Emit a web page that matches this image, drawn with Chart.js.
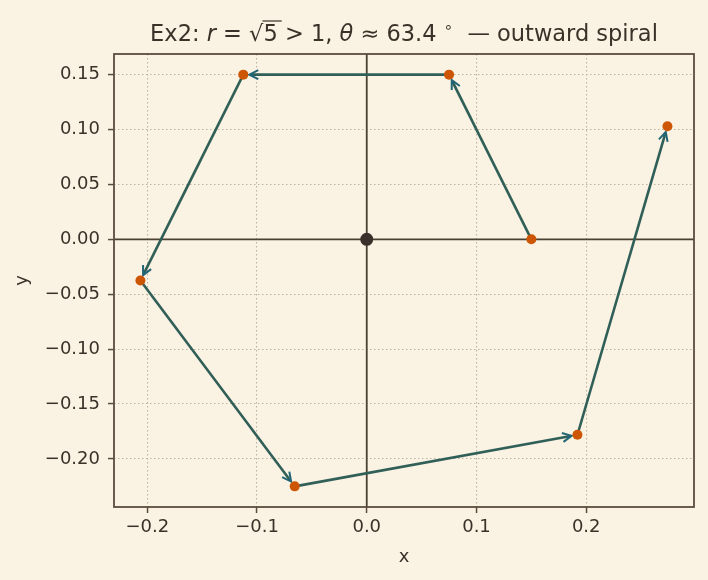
<!DOCTYPE html>
<html>
<head>
<meta charset="utf-8">
<script src="https://cdn.jsdelivr.net/npm/chart.js@4"></script>
<style>
  html, body { margin: 0; padding: 0; background: #faf2e3; }
  #wrap { width: 708px; height: 580px; }
</style>
</head>
<body>
<div id="wrap"><canvas id="plot" width="708" height="580"></canvas></div>
<script>
// iterates of the map
const spiralX = [0.15, 0.075, -0.1125, -0.20625, -0.065625, 0.192, 0.274];
const spiralY = [0, 0.15, 0.15, -0.0375, -0.225, -0.178, 0.103];
const originX = [0];
const originY = [0];
const xTicks = [-0.2, -0.1, 0, 0.1, 0.2];
const yTicks = [-0.2, -0.15, -0.1, -0.05, 0, 0.05, 0.1, 0.15];
const xLimits = [-0.2303, 0.2982];
const yLimits = [-0.2438, 0.1688];

const ink = "#3b3129";
const frameColor = "#5a4d3d";
const fmt = (v, d) => v.toFixed(d).replace("-", "\u2212");

const extras = {
  id: "extras",
  beforeDraw(chart) {
    const ctx = chart.ctx;
    ctx.save();
    ctx.fillStyle = "#faf2e3";
    ctx.fillRect(0, 0, chart.width, chart.height);
    ctx.restore();
  },
  beforeDatasetsDraw(chart) {
    const { ctx, chartArea: a, scales: { x, y } } = chart;
    ctx.save();
    // zero lines
    const x0 = x.getPixelForValue(0), y0 = y.getPixelForValue(0);
    ctx.strokeStyle = "#4b4034";
    ctx.lineWidth = 1.8;
    ctx.beginPath();
    ctx.moveTo(a.left, y0); ctx.lineTo(a.right, y0);
    ctx.moveTo(x0, a.top); ctx.lineTo(x0, a.bottom);
    ctx.stroke();

    // arrows between consecutive iterates
    for (let i = 0; i < spiralX.length - 1; i++) {
      const x1 = x.getPixelForValue(spiralX[i]), y1 = y.getPixelForValue(spiralY[i]);
      const x2 = x.getPixelForValue(spiralX[i + 1]), y2 = y.getPixelForValue(spiralY[i + 1]);
      const len = Math.hypot(x2 - x1, y2 - y1);
      const ux = (x2 - x1) / len, uy = (y2 - y1) / len;
      const tx = x2 - ux * 6, ty = y2 - uy * 6;
      ctx.strokeStyle = "#2f5f57";
      ctx.lineWidth = 2.6;
      ctx.lineCap = "butt";
      ctx.beginPath();
      ctx.moveTo(x1, y1); ctx.lineTo(tx - ux * 2, ty - uy * 2);
      ctx.stroke();
      const hl = 9, hw = 4.5;
      const bx = tx - ux * hl, by = ty - uy * hl;
      ctx.strokeStyle = "#226575";
      ctx.lineWidth = 2;
      ctx.beginPath();
      ctx.moveTo(bx - uy * hw, by + ux * hw);
      ctx.lineTo(tx, ty);
      ctx.lineTo(bx + uy * hw, by - ux * hw);
      ctx.moveTo(tx, ty);
      ctx.lineTo(tx - ux * 4, ty - uy * 4);
      ctx.stroke();
    }
    ctx.restore();
  },
  afterDraw(chart) {
    const { ctx, chartArea: a } = chart;
    ctx.save();
    ctx.strokeStyle = frameColor;
    ctx.lineWidth = 1.8;
    ctx.strokeRect(a.left, a.top, a.right - a.left, a.bottom - a.top);

    // title with math parts
    const fam = "'DejaVu Sans', sans-serif";
    const norm = "22.5px " + fam, ital = "italic 22.5px " + fam, small = "15px " + fam;
    const parts = [
      { t: "Ex2: ", f: norm },
      { t: "r", f: ital },
      { t: " = ", f: norm },
      { t: "\u221A", f: norm },
      { t: "5", f: norm, over: true },
      { t: " > 1, ", f: norm },
      { t: "\u03B8", f: ital },
      { t: " \u2248 63.4 ", f: norm },
      { t: "\u2218", f: small, dy: -9 },
      { t: "  \u2014 outward spiral", f: norm }
    ];
    let total = 0;
    parts.forEach(p => { ctx.font = p.f; p.w = ctx.measureText(p.t).width; total += p.w; });
    let cx = (a.left + a.right) / 2 - total / 2;
    const base = 41;
    ctx.fillStyle = ink;
    ctx.textBaseline = "alphabetic";
    ctx.textAlign = "left";
    parts.forEach(p => {
      ctx.font = p.f;
      ctx.fillText(p.t, cx, base + (p.dy || 0));
      if (p.over) {
        ctx.strokeStyle = ink;
        ctx.lineWidth = 1.2;
        ctx.beginPath();
        ctx.moveTo(cx - 1, base - 20); ctx.lineTo(cx + p.w + 4, base - 20);
        ctx.stroke();
      }
      cx += p.w;
    });
    ctx.restore();
  }
};

const tickFont = { family: "'DejaVu Sans', sans-serif", size: 18 };

new Chart(document.getElementById("plot"), {
  type: "scatter",
  data: {
    datasets: [
      {
        label: "iterates",
        data: spiralX.map((v, i) => ({ x: v, y: spiralY[i] })),
        backgroundColor: "#cd5606",
        borderColor: "#cd5606",
        pointRadius: 5,
        borderWidth: 0
      },
      {
        label: "origin",
        data: originX.map((v, i) => ({ x: v, y: originY[i] })),
        backgroundColor: "#3a2f2b",
        borderColor: "#3a2f2b",
        pointRadius: 6.5,
        borderWidth: 0
      }
    ]
  },
  options: {
    responsive: false,
    animation: false,
    devicePixelRatio: 1,
    layout: { padding: { top: 54, right: 14, left: 0, bottom: 0 } },
    plugins: {
      legend: { display: false },
      title: { display: false },
      tooltip: { enabled: false }
    },
    scales: {
      x: {
        type: "linear",
        min: xLimits[0],
        max: xLimits[1],
        afterBuildTicks: s => { s.ticks = xTicks.map(v => ({ value: v })); },
        afterFit: s => { s.height = 73; },
        ticks: {
          callback: v => fmt(v, 1),
          color: ink,
          font: tickFont,
          padding: 4,
          maxRotation: 0,
          autoSkip: false
        },
        grid: {
          color: "#bdb3a2",
          lineWidth: 1.1,
          tickColor: frameColor,
          tickLength: 6,
          tickWidth: 1.5,
          tickBorderDash: []
        },
        border: { display: false, dash: [1.5, 2.5] },
        title: {
          display: true,
          text: "x",
          color: ink,
          font: tickFont,
          padding: { top: 0, bottom: 12 }
        }
      },
      y: {
        type: "linear",
        min: yLimits[0],
        max: yLimits[1],
        afterBuildTicks: s => { s.ticks = yTicks.map(v => ({ value: v })); },
        afterFit: s => { s.width = 114; },
        ticks: {
          callback: v => fmt(v, 2),
          color: ink,
          font: tickFont,
          padding: 8,
          autoSkip: false
        },
        grid: {
          color: "#bdb3a2",
          lineWidth: 1.1,
          tickColor: frameColor,
          tickLength: 6,
          tickWidth: 1.5,
          tickBorderDash: []
        },
        border: { display: false, dash: [1.5, 2.5] },
        title: {
          display: true,
          text: "y",
          color: ink,
          font: tickFont,
          padding: { top: 12, bottom: 0 }
        }
      }
    }
  },
  plugins: [extras]
});
</script>
</body>
</html>
